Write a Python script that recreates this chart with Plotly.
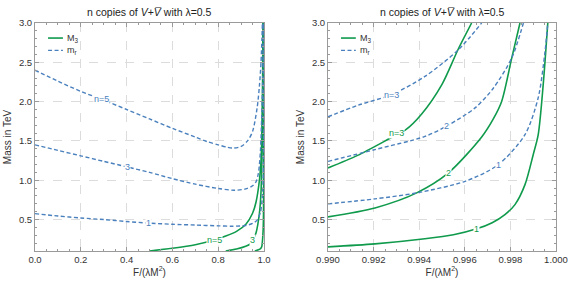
import plotly.graph_objects as go

# ---------------- Left panel data (F/(lambda M^2) from 0 to 1) ----------------
L_mr5_x = [0, 0.1, 0.2, 0.29, 0.4, 0.5, 0.6, 0.7, 0.753, 0.8, 0.84, 0.868, 0.9, 0.928, 0.95, 0.97, 0.98, 0.987, 0.991, 0.993]
L_mr5_y = [2.40, 2.26, 2.13, 2.03, 1.90, 1.78, 1.66, 1.55, 1.49, 1.45, 1.42, 1.41, 1.43, 1.50, 1.62, 1.92, 2.2, 2.5, 2.8, 3.0]
L_mr3_x = [0, 0.1, 0.2, 0.3, 0.402, 0.5, 0.6, 0.7, 0.8, 0.87, 0.92, 0.95, 0.965, 0.975, 0.98, 0.985, 0.99, 0.9928, 0.995, 0.9961, 0.9967]
L_mr3_y = [1.45, 1.38, 1.31, 1.24, 1.17, 1.10, 1.02, 0.95, 0.895, 0.873, 0.89, 0.93, 0.98, 1.08, 1.2, 1.4, 1.8, 2.09, 2.4, 2.66, 3.0]
L_mr1_x = [0, 0.1, 0.2, 0.3, 0.4, 0.497, 0.6, 0.7, 0.8, 0.86, 0.92, 0.95, 0.972, 0.985, 0.99, 0.992, 0.994, 0.996, 0.9975, 0.9986, 0.9992, 0.9995, 0.99964]
L_mr1_y = [0.575, 0.545, 0.52, 0.50, 0.475, 0.455, 0.44, 0.43, 0.42, 0.415, 0.425, 0.45, 0.50, 0.6, 0.70, 0.763, 0.84, 0.986, 1.2, 1.58, 2.05, 2.64, 3.0]
L_M5_x = [0.5, 0.6, 0.7, 0.782, 0.833, 0.88, 0.921, 0.95, 0.965, 0.98, 0.987, 0.99, 0.992, 0.994, 0.9955]
L_M5_y = [0.10, 0.135, 0.18, 0.24, 0.29, 0.35, 0.44, 0.58, 0.72, 1.0, 1.25, 1.5, 1.8, 2.3, 3.0]
L_M3_x = [0.833, 0.88, 0.92, 0.94, 0.95, 0.965, 0.98, 0.987, 0.99, 0.9913, 0.9927, 0.9941, 0.995, 0.9957, 0.9963]
L_M3_y = [0.10, 0.125, 0.16, 0.19, 0.235, 0.33, 0.58, 0.85, 1.156, 1.316, 1.53, 1.84, 2.22, 2.66, 3.0]
L_M1_x = [0.96, 0.975, 0.985, 0.990, 0.992, 0.994, 0.9965, 0.9978, 0.9986, 0.999, 0.9992, 0.9994, 0.99964]
L_M1_y = [0.10, 0.115, 0.13, 0.153, 0.19, 0.255, 0.382, 0.563, 0.944, 1.325, 1.58, 2.22, 3.0]

# ---------------- Right panel data (F/(lambda M^2) from 0.990 to 1.000) ----------------
R_M1_x = [0.990, 0.99206, 0.99425, 0.9955, 0.99652, 0.9972, 0.99776, 0.9982, 0.99864, 0.999, 0.99922, 0.99944, 0.99964]
R_M1_y = [0.153, 0.19, 0.255, 0.306, 0.382, 0.46, 0.563, 0.69, 0.944, 1.325, 1.58, 2.22, 3.0]
R_M2_x = [0.990, 0.99206, 0.99389, 0.99528, 0.99674, 0.99725, 0.99762, 0.99806, 0.99842]
R_M2_y = [0.534, 0.648, 0.839, 1.093, 1.55, 1.78, 2.006, 2.556, 3.0]
R_M3_x = [0.990, 0.9913, 0.9927, 0.9934, 0.9941, 0.9950, 0.9957, 0.9963]
R_M3_y = [1.156, 1.316, 1.53, 1.64, 1.84, 2.22, 2.66, 3.0]
R_mr1_x = [0.990, 0.99206, 0.99389, 0.99601, 0.99747, 0.99864, 0.99922, 0.99952, 0.99964]
R_mr1_y = [0.699, 0.763, 0.839, 0.986, 1.198, 1.58, 2.05, 2.64, 3.0]
R_mr2_x = [0.990, 0.99206, 0.99425, 0.99521, 0.99645, 0.99725, 0.99806, 0.99857]
R_mr2_y = [1.24, 1.39, 1.557, 1.69, 1.92, 2.17, 2.556, 3.0]
R_mr3_x = [0.990, 0.99133, 0.99279, 0.99425, 0.99572, 0.99674]
R_mr3_y = [1.807, 1.955, 2.09, 2.32, 2.66, 3.0]

# Contour-style labels: (text, x, y, kind)
L_labels = [("n=5", 0.29, 2.03, "mr"), ("3", 0.402, 1.17, "mr"), ("1", 0.497, 0.455, "mr"),
            ("n=5", 0.782, 0.24, "M"), ("3", 0.95, 0.24, "M")]
R_labels = [("n=3", 0.99279, 2.09, "mr"), ("2", 0.99521, 1.69, "mr"), ("1", 0.99747, 1.198, "mr"),
            ("n=3", 0.99301, 1.60, "M"), ("2", 0.99528, 1.093, "M"), ("1", 0.99652, 0.382, "M")]

LEGEND_NAMES = ["M<sub>3</sub>", "m<sub>r</sub>"]
TITLE = "n copies of <i>V</i>+<i>V\u0305</i> with \u03bb=0.5"
GREEN = "#0f9a4c"
BLUE = "#4a80bd"
DASH = "4px,2.5px"
FONT = "Liberation Sans, Arial, sans-serif"

fig = go.Figure()

def add_line(x, y, kind, xa, ya):
    if kind == "M":
        line = dict(color=GREEN, width=1.6, shape="spline", smoothing=0.8)
        name = LEGEND_NAMES[0]
    else:
        line = dict(color=BLUE, width=1.4, dash=DASH, shape="spline", smoothing=0.8)
        name = LEGEND_NAMES[1]
    fig.add_trace(go.Scatter(x=x, y=y, mode="lines", line=line, name=name,
                             xaxis=xa, yaxis=ya, showlegend=False, hoverinfo="skip"))

# left panel
add_line(L_M5_x, L_M5_y, "M", "x", "y")
add_line(L_M3_x, L_M3_y, "M", "x", "y")
add_line(L_M1_x, L_M1_y, "M", "x", "y")
add_line(L_mr5_x, L_mr5_y, "mr", "x", "y")
add_line(L_mr3_x, L_mr3_y, "mr", "x", "y")
add_line(L_mr1_x, L_mr1_y, "mr", "x", "y")
# right panel
add_line(R_M3_x, R_M3_y, "M", "x2", "y2")
add_line(R_M2_x, R_M2_y, "M", "x2", "y2")
add_line(R_M1_x, R_M1_y, "M", "x2", "y2")
add_line(R_mr3_x, R_mr3_y, "mr", "x2", "y2")
add_line(R_mr2_x, R_mr2_y, "mr", "x2", "y2")
add_line(R_mr1_x, R_mr1_y, "mr", "x2", "y2")

annotations = []
shapes = []
for labels, xr, yr in ((L_labels, "x", "y"), (R_labels, "x2", "y2")):
    for t, x, y, k in labels:
        annotations.append(dict(text=t, x=x, y=y, xref=xr, yref=yr, showarrow=False,
                                font=dict(size=9, color=GREEN if k == "M" else BLUE, family=FONT),
                                bgcolor="white", borderpad=0))

for xr, yr in (("x domain", "y domain"), ("x2 domain", "y2 domain")):
    # panel title
    annotations.append(dict(text=TITLE, x=0.5, y=1.0, xref=xr, yref=yr, yshift=3,
                            xanchor="center", yanchor="bottom", showarrow=False,
                            font=dict(size=10.5, color="#222", family=FONT)))
    # in-panel legend (keys)
    for i, (name, col, dash, w) in enumerate(((LEGEND_NAMES[0], GREEN, "solid", 1.6),
                                              (LEGEND_NAMES[1], BLUE, DASH, 1.4))):
        yy = 0.934 - i * 0.054
        shapes.append(dict(type="line", xref=xr, yref=yr, x0=0.057, x1=0.122, y0=yy, y1=yy,
                           line=dict(color=col, width=w, dash=dash)))
        annotations.append(dict(text=name, x=0.133, y=yy, xref=xr, yref=yr, showarrow=False,
                                xanchor="left", yanchor="middle",
                                font=dict(size=9, color="#333", family=FONT)))

axis_common = dict(showline=True, linecolor="#9a9a9a", linewidth=1, mirror="allticks",
                   ticks="inside", ticklen=4, tickcolor="#9a9a9a", tickwidth=0.8,
                   showgrid=True, gridcolor="#dcdcdc", griddash="dash", gridwidth=0.8,
                   zeroline=False, automargin=False,
                   tickfont=dict(size=9.5, color="#333", family=FONT),
                   title_font=dict(size=10, color="#333", family=FONT))

ML, MR, MT, MB = 35, 17, 23, 33
W = 573 - ML - MR
fig.update_layout(
    template="none",
    width=573, height=284, margin=dict(l=ML, r=MR, t=MT, b=MB, autoexpand=False),
    paper_bgcolor="white", plot_bgcolor="white",
    font=dict(family=FONT), showlegend=False,
    xaxis=dict(domain=[0, (264 - ML) / W], range=[0, 1], tickvals=[0, 0.2, 0.4, 0.6, 0.8, 1.0],
               tickformat=".1f", title_text="F/(\u03bbM<sup>2</sup>)", title_standoff=3,
               minor=dict(dtick=0.05, ticks="inside", ticklen=2, tickcolor="#9a9a9a", showgrid=False),
               anchor="y", **axis_common),
    yaxis=dict(domain=[0, 1], range=[0.1, 3.0], tickvals=[0.5, 1.0, 1.5, 2.0, 2.5, 3.0],
               tickformat=".1f", title_text="Mass in TeV", title_standoff=5,
               minor=dict(tick0=0, dtick=0.1, ticks="inside", ticklen=2, tickcolor="#9a9a9a", showgrid=False),
               anchor="x", **axis_common),
    xaxis2=dict(domain=[(328 - ML) / W, 1], range=[0.99, 1.0],
                tickvals=[0.990, 0.992, 0.994, 0.996, 0.998, 1.000],
                tickformat=".3f", title_text="F/(\u03bbM<sup>2</sup>)", title_standoff=3,
                minor=dict(tick0=0.99, dtick=0.0005, ticks="inside", ticklen=2, tickcolor="#9a9a9a", showgrid=False),
                anchor="y2", **axis_common),
    yaxis2=dict(domain=[0, 1], range=[0.1, 3.0], tickvals=[0.5, 1.0, 1.5, 2.0, 2.5, 3.0],
                tickformat=".1f", title_text="Mass in TeV", title_standoff=5,
                minor=dict(tick0=0, dtick=0.1, ticks="inside", ticklen=2, tickcolor="#9a9a9a", showgrid=False),
                anchor="x2", **axis_common),
    annotations=annotations,
    shapes=shapes,
)

fig.write_html("out.html", config={"displayModeBar": False},
               post_script="document.body.style.margin='0';document.body.style.padding='0';")
